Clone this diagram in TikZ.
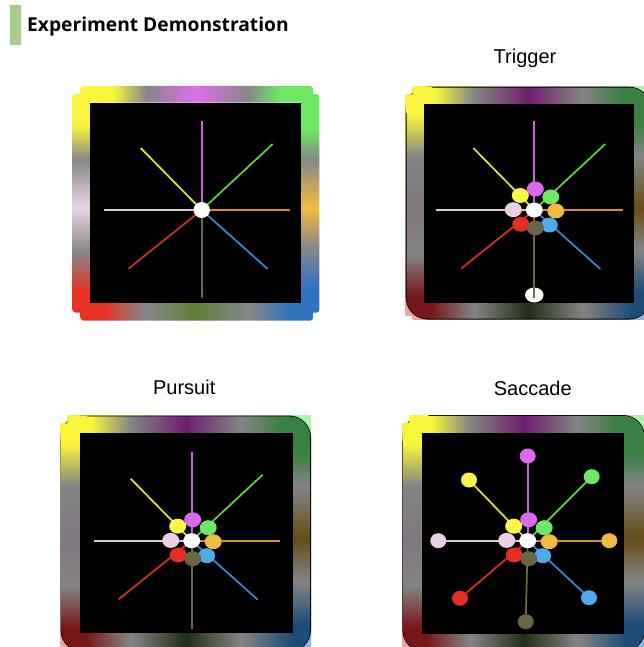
\documentclass[tikz,border=0pt]{standalone}
\usepackage{fontspec}
\setmainfont{Liberation Sans}
\newfontfamily\headfont{Open Sans}
\usetikzlibrary{shapes.geometric}

% frame palette (bright)
\definecolor{cYel}{RGB}{250,245,60}
\definecolor{cMag}{RGB}{222,110,235}
\definecolor{cGrn}{RGB}{110,232,100}
\definecolor{cOrg}{RGB}{242,188,62}
\definecolor{cBlu}{RGB}{50,115,192}
\definecolor{cOlv}{RGB}{92,128,58}
\definecolor{cRed}{RGB}{232,50,38}
\definecolor{cPnk}{RGB}{236,212,232}
\definecolor{cGry}{RGB}{135,135,135}
% frame palette (dimmed)
\definecolor{dMag}{RGB}{110,30,112}
\definecolor{dGrn}{RGB}{58,128,66}
\definecolor{dOrg}{RGB}{102,76,22}
\definecolor{dBlu}{RGB}{30,76,118}
\definecolor{dOlv}{RGB}{32,46,22}
\definecolor{dRed}{RGB}{118,22,22}
\definecolor{dPnk}{RGB}{128,118,128}
\definecolor{dGry}{RGB}{132,132,132}
% frame palette (tints showing at the corners)
\definecolor{tGrn}{RGB}{180,238,176}
\definecolor{tRed}{RGB}{236,165,162}
\definecolor{tBlu}{RGB}{150,180,215}
\definecolor{tGry}{RGB}{205,205,205}
% ray colours
\definecolor{rMag}{RGB}{205,95,220}
\definecolor{rGrn}{RGB}{100,210,70}
\definecolor{rOrg}{RGB}{215,140,40}
\definecolor{rBlu}{RGB}{55,135,220}
\definecolor{rOlv}{RGB}{115,105,62}
\definecolor{rRed}{RGB}{215,50,30}
\definecolor{rPnk}{RGB}{222,198,218}
\definecolor{rYel}{RGB}{228,228,60}
% dot colours
\definecolor{pMag}{RGB}{220,105,235}
\definecolor{pYel}{RGB}{250,245,75}
\definecolor{pGrn}{RGB}{110,232,100}
\definecolor{pPnk}{RGB}{232,208,226}
\definecolor{pOrg}{RGB}{240,185,65}
\definecolor{pRed}{RGB}{228,45,35}
\definecolor{pOlv}{RGB}{105,100,70}
\definecolor{pBlu}{RGB}{80,170,232}
\definecolor{barGreen}{RGB}{168,206,142}

% strip shadings: stops between 25bp and 75bp span the strip
\pgfdeclarehorizontalshading{shTopB}{100bp}{color(0bp)=(cYel); color(32bp)=(cYel); color(39bp)=(cGry); color(50bp)=(cMag); color(61bp)=(cGry); color(68bp)=(cGrn); color(100bp)=(cGrn)}
\pgfdeclarehorizontalshading{shBotB}{100bp}{color(0bp)=(cRed); color(30bp)=(cRed); color(39bp)=(cGry); color(50bp)=(cOlv); color(61bp)=(cGry); color(70bp)=(cBlu); color(100bp)=(cBlu)}
\pgfdeclareverticalshading{shLeftB}{100bp}{color(0bp)=(cRed); color(30bp)=(cRed); color(39bp)=(cGry); color(49bp)=(cPnk); color(60bp)=(cGry); color(68bp)=(cYel); color(100bp)=(cYel)}
\pgfdeclareverticalshading{shRightB}{100bp}{color(0bp)=(cBlu); color(31bp)=(cBlu); color(40bp)=(cGry); color(49bp)=(cOrg); color(60bp)=(cGry); color(67bp)=(cGrn); color(100bp)=(cGrn)}

\pgfdeclarehorizontalshading{shTopD}{100bp}{color(0bp)=(cYel); color(31bp)=(cYel); color(39bp)=(dGry); color(50bp)=(dMag); color(61bp)=(dGry); color(69bp)=(dGrn); color(100bp)=(dGrn)}
\pgfdeclarehorizontalshading{shBotD}{100bp}{color(0bp)=(dRed); color(30bp)=(dRed); color(39bp)=(dGry); color(50bp)=(dOlv); color(61bp)=(dGry); color(71bp)=(dBlu); color(100bp)=(dBlu)}
\pgfdeclareverticalshading{shLeftD}{100bp}{color(0bp)=(dRed); color(30bp)=(dRed); color(39bp)=(dGry); color(49bp)=(dPnk); color(60bp)=(dGry); color(69bp)=(cYel); color(100bp)=(cYel)}
\pgfdeclareverticalshading{shRightD}{100bp}{color(0bp)=(dBlu); color(31bp)=(dBlu); color(40bp)=(dGry); color(49bp)=(dOrg); color(60bp)=(dGry); color(67bp)=(dGrn); color(100bp)=(dGrn)}

\pgfdeclarehorizontalshading{shTopL}{100bp}{color(0bp)=(cYel); color(32bp)=(cYel); color(50bp)=(tGry); color(68bp)=(tGrn); color(100bp)=(tGrn)}
\pgfdeclarehorizontalshading{shBotL}{100bp}{color(0bp)=(tRed); color(30bp)=(tRed); color(50bp)=(tGry); color(70bp)=(tBlu); color(100bp)=(tBlu)}
\pgfdeclareverticalshading{shLeftL}{100bp}{color(0bp)=(tRed); color(30bp)=(tRed); color(50bp)=(tGry); color(68bp)=(cYel); color(100bp)=(cYel)}
\pgfdeclareverticalshading{shRightL}{100bp}{color(0bp)=(tBlu); color(31bp)=(tBlu); color(50bp)=(tGry); color(67bp)=(tGrn); color(100bp)=(tGrn)}

\tikzset{
  ray/.style={line width=1.7pt},
  dot/.style={ellipse, inner sep=0pt, minimum width=17pt, minimum height=15pt},
  caption/.style={anchor=base, inner sep=0pt, font=\fontsize{20}{24}\selectfont},
}

% dimmed frame on a rounded black backing
% #1 left, #2 top, #3 right, #4 bottom (outer); #5..#8 the same for the black screen
\newcommand\dimframe[8]{%
  \shade[shading=shTopL] (#1+7,#2) rectangle (#3,#6);
  \shade[shading=shBotL] (#1+7,#8) rectangle (#3,#4);
  \shade[shading=shLeftL] (#1,#2+8) rectangle (#5,#4-4);
  \shade[shading=shRightL] (#7,#2+8) rectangle (#3,#4-4);
  \fill[black, rounded corners=22pt] (#1,#2) rectangle (#3,#4);
  \begin{scope}
    \clip[rounded corners=21pt] (#1+0.9,#2+0.9) rectangle (#3-0.9,#4-0.9);
    \shade[shading=shTopD] (#1,#2) rectangle (#3,#6);
    \shade[shading=shBotD] (#1,#8) rectangle (#3,#4);
    \shade[shading=shLeftD] (#1,#2) rectangle (#5,#4);
    \shade[shading=shRightD] (#7,#2) rectangle (#3,#4);
  \end{scope}
  % the yellow corner sits square over the backing
  \fill[cYel, rounded corners=2pt] (#1+7,#2) rectangle (#1+27,#6);
  \fill[cYel, rounded corners=2pt] (#1,#2+8) rectangle (#5,#2+27);
  \fill[black] (#5,#6) rectangle (#7,#8);
}

% eight rays from the centre coordinate #1c
\newcommand\rayset[1]{%
  \path (#1c) ++(0,-88.5) coordinate (#1N)
        (#1c) ++(71,-66)  coordinate (#1NE)
        (#1c) ++(88.5,0)  coordinate (#1E)
        (#1c) ++(66,59)   coordinate (#1SE)
        (#1c) ++(0,88)    coordinate (#1S)
        (#1c) ++(-73,58.5) coordinate (#1SW)
        (#1c) ++(-98,0)   coordinate (#1W)
        (#1c) ++(-61,-62) coordinate (#1NW);
  \draw[ray, rMag] (#1c) -- (#1N);
  \draw[ray, rGrn] (#1c) -- (#1NE);
  \draw[ray, rOrg] (#1c) -- (#1E);
  \draw[ray, rBlu] (#1c) -- (#1SE);
  \draw[ray, rOlv] (#1c) -- (#1S);
  \draw[ray, rRed] (#1c) -- (#1SW);
  \draw[ray, rPnk] (#1c) -- (#1W);
  \draw[ray, rYel] (#1c) -- (#1NW);
}

% ring of eight dots around the white centre dot
\newcommand\dotring[1]{%
  \path (#1c) ++(1,-21)     node[dot, fill=pMag] (#1rN) {}
        (#1c) ++(-14,-14.5) node[dot, fill=pYel] (#1rNW) {}
        (#1c) ++(16.5,-13)  node[dot, fill=pGrn] (#1rNE) {}
        (#1c) ++(-21,-0.3)  node[dot, fill=pPnk] (#1rW) {}
        (#1c) ++(21.5,1)    node[dot, fill=pOrg] (#1rE) {}
        (#1c) ++(-13.5,14.3) node[dot, fill=pRed] (#1rSW) {}
        (#1c) ++(15,15)     node[dot, fill=pBlu] (#1rSE) {}
        (#1c) ++(1,18)      node[dot, fill=pOlv] (#1rS) {};
  \node[dot, fill=white] (#1rC) at (#1c) {};
}

\begin{document}
\begin{tikzpicture}[x=1pt,y=-1pt]
\useasboundingbox (0,0) rectangle (643,647);

% heading
\fill[barGreen] (10,5) rectangle (20.5,45);
\node[anchor=base west, inner sep=0pt, font=\headfont\bfseries\fontsize{19.2}{23}\selectfont] (head) at (27,31.7) {Experiment Demonstration};

% idle screen
\shade[shading=shLeftB, rounded corners=3pt] (72.7,94) rectangle (90,312.7);
\shade[shading=shRightB, rounded corners=3pt] (301.3,94) rectangle (319.3,312.7);
\shade[shading=shTopB, rounded corners=3pt] (80.7,86) rectangle (313,102.7);
\shade[shading=shBotB, rounded corners=3pt] (80.7,302.7) rectangle (313,320.7);
\fill[black] (90,102.7) rectangle (301.3,302.7);
\coordinate (ac) at (201.7,210);
\rayset{a}
\node[dot, fill=white, minimum width=16.5pt, minimum height=16pt] (aDot) at (ac) {};

% trigger
\node[caption] (capTrig) at (525,63.3) {Trigger};
\dimframe{405.7}{86.7}{651}{319.5}{424.3}{104.3}{633.7}{303.3}
\coordinate (bc) at (534.3,210);
\node[dot, fill=white, minimum width=18.5pt, minimum height=15pt] (bStart) at (534.3,295) {};
\rayset{b}
\dotring{b}

% pursuit
\node[caption] (capPurs) at (184.2,394) {Pursuit};
\dimframe{60.5}{415.5}{311}{652}{80}{433.3}{292.7}{633.3}
\coordinate (cc) at (191.7,540.7);
\rayset{c}
\dotring{c}

% saccade
\node[caption] (capSacc) at (532.8,395) {Saccade};
\dimframe{402.3}{415}{645}{652}{421.7}{433.3}{623.7}{634}
\coordinate (dc) at (527.7,540.7);
\path (dc) ++(0,-84.7)     coordinate (dN)
      (dc) ++(64,-64)      coordinate (dNE)
      (dc) ++(81.6,0)      coordinate (dE)
      (dc) ++(61.3,57)     coordinate (dSE)
      (dc) ++(-2,81)       coordinate (dS)
      (dc) ++(-67.7,57.6)  coordinate (dSW)
      (dc) ++(-89.4,0)     coordinate (dW)
      (dc) ++(-58.7,-60.7) coordinate (dNW);
\draw[ray, rMag] (dc) -- (dN);
\draw[ray, rGrn] (dc) -- (dNE);
\draw[ray, rOrg] (dc) -- (dE);
\draw[ray, rBlu] (dc) -- (dSE);
\draw[ray, rOlv] (dc) -- (dS);
\draw[ray, rRed] (dc) -- (dSW);
\draw[ray, rPnk] (dc) -- (dW);
\draw[ray, rYel] (dc) -- (dNW);
\dotring{d}
\node[dot, fill=pMag, minimum width=16pt, minimum height=15pt] (dtN) at (dN) {};
\node[dot, fill=pGrn, minimum width=16pt, minimum height=15pt] (dtNE) at (dNE) {};
\node[dot, fill=pOrg, minimum width=16pt, minimum height=15pt] (dtE) at (dE) {};
\node[dot, fill=pBlu, minimum width=16pt, minimum height=15pt] (dtSE) at (dSE) {};
\node[dot, fill=pOlv, minimum width=16pt, minimum height=15pt] (dtS) at (dS) {};
\node[dot, fill=pRed, minimum width=16pt, minimum height=15pt] (dtSW) at (dSW) {};
\node[dot, fill=pPnk, minimum width=16pt, minimum height=15pt] (dtW) at (dW) {};
\node[dot, fill=pYel, minimum width=16pt, minimum height=15pt] (dtNW) at (dNW) {};
\end{tikzpicture}
\end{document}
